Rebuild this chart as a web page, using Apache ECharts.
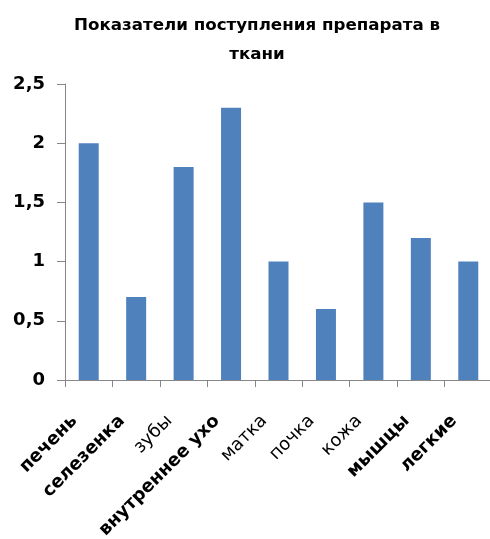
<!DOCTYPE html>
<html>
<head>
<meta charset="utf-8">
<script src="https://cdn.jsdelivr.net/npm/echarts@6/dist/echarts.min.js"></script>
<style>
  html, body { margin: 0; padding: 0; background: #fff; }
  #chart { width: 490px; height: 539px; }
</style>
</head>
<body>
<div id="chart"></div>
<script>
// tissues and values
const tissues = ["печень", "селезенка", "зубы", "внутреннее ухо", "матка", "почка", "кожа", "мышцы", "легкие"];
const values = [2, 0.7, 1.8, 2.3, 1, 0.6, 1.5, 1.2, 1];
// which labels are bold in the original
const boldLabels = [true, true, false, true, false, false, false, true, true];
const yTicks = [0, 0.5, 1, 1.5, 2, 2.5];
const titleLines = ["Показатели поступления препарата в", "ткани"];

const font = "DejaVu Sans";

const categoryData = tissues.map((name, i) => ({
  value: name,
  textStyle: boldLabels[i]
    ? { fontWeight: "bold", fontSize: 18 }
    : { fontWeight: "normal", fontSize: 18 },
}));

const chart = echarts.init(document.getElementById("chart"));
chart.setOption({
  animation: false,
  textStyle: { fontFamily: font, color: "#000" },
  // two centred title lines, placed over the plot like the original
  graphic: titleLines.map((line, i) => ({
    type: "text",
    x: 257,
    y: 26 + i * 29,
    style: {
      text: line,
      fontFamily: font,
      fontWeight: "bold",
      fontSize: 16.7,
      fill: "#000",
      textAlign: "center",
      textVerticalAlign: "middle",
    },
  })),
  grid: { left: 65, top: 84, width: 427, height: 296, outerBoundsMode: "none" },
  xAxis: {
    type: "category",
    data: categoryData,
    axisLine: { lineStyle: { color: "#868686", width: 1 } },
    axisTick: { show: true, length: 7, lineStyle: { color: "#868686" } },
    axisLabel: {
      rotate: 45,
      margin: 24,
      padding: [0, 20, 0, 0],
      interval: 0,
      color: "#000",
      fontFamily: font,
    },
  },
  yAxis: {
    type: "value",
    min: yTicks[0],
    max: yTicks[yTicks.length - 1],
    interval: 0.5,
    splitLine: { show: false },
    axisLine: { show: true, lineStyle: { color: "#868686", width: 1 } },
    axisTick: { show: true, length: 8, lineStyle: { color: "#868686" } },
    axisLabel: {
      margin: 20,
      fontSize: 18,
      fontWeight: "bold",
      color: "#000",
      fontFamily: font,
      formatter: (v) => String(v).replace(".", ","),
    },
  },
  series: [
    {
      type: "bar",
      data: values,
      barWidth: 20,
      itemStyle: { color: "#4F81BD" },
    },
  ],
});
</script>
</body>
</html>
